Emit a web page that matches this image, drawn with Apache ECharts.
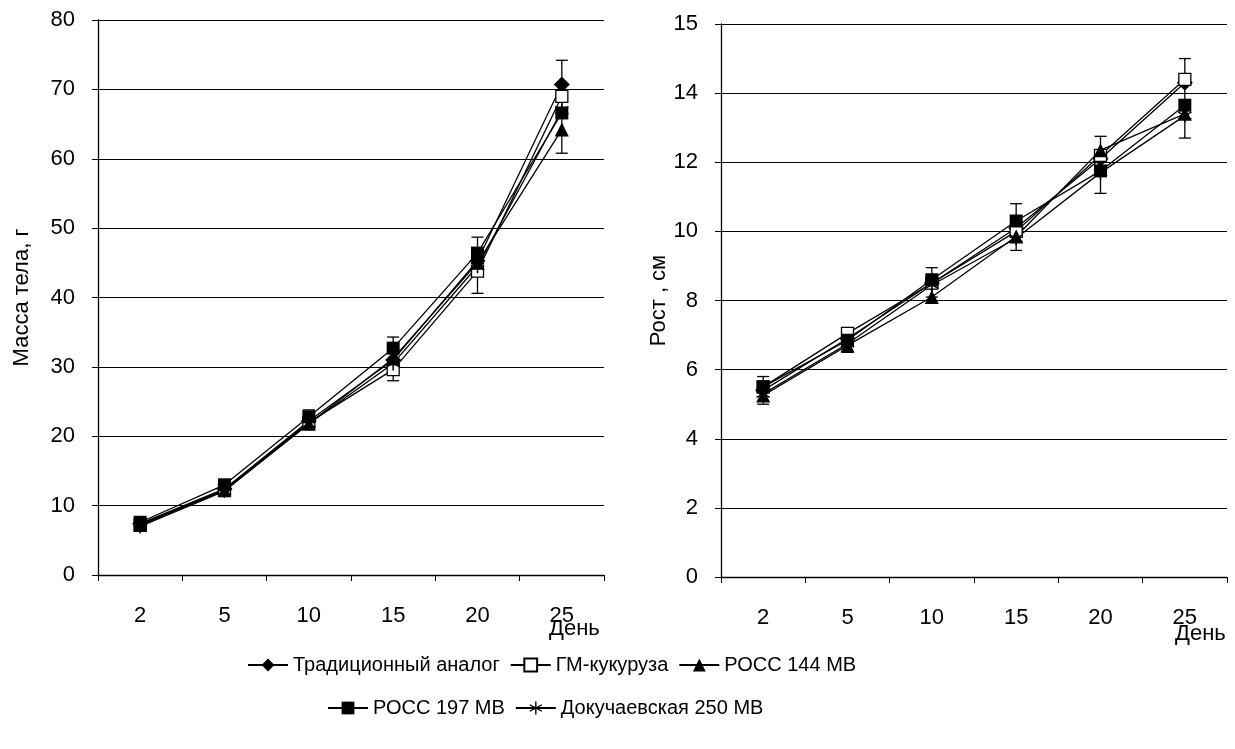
<!DOCTYPE html>
<html><head><meta charset="utf-8">
<script src="https://cdn.jsdelivr.net/npm/echarts@6/dist/echarts.min.js"></script>
<style>html,body{margin:0;padding:0;background:#fff}#c{width:1235px;height:749px}</style>
</head><body><div id="c"></div>
<script>
var days = ['2','5','10','15','20','25'];
var seriesNames = ['Традиционный аналог','ГМ-кукуруза','РОСС 144 МВ','РОСС 197 МВ','Докучаевская 250 МВ'];
// Масса тела, г
var massTrad = [7.4, 12.4, 22.2, 31.0, 45.3, 70.7];
var massGM   = [7.3, 12.3, 22.0, 29.6, 43.8, 69.0];
var mass144  = [7.2, 12.2, 21.8, 31.2, 45.0, 64.2];
var mass197  = [7.6, 13.0, 22.8, 32.7, 46.4, 66.6];
var massDok  = [7.0, 12.1, 21.8, 30.5, 44.5, 67.0];
var massErrLow  = [6.6, 11.5, 21.0, 28.0, 40.6, 60.8];
var massErrHigh = [8.2, 13.6, 23.8, 34.3, 48.7, 74.2];
var massTickLabels = ['0','10','20','30','40','50','60','70','80'];
// Рост, см
var hTrad = [5.4, 6.9, 8.5, 10.1, 12.1, 14.3];
var hGM   = [5.5, 7.05, 8.5, 10.0, 12.2, 14.4];
var h144  = [5.25, 6.7, 8.1, 9.85, 12.35, 13.4];
var h197  = [5.5, 6.85, 8.6, 10.3, 11.75, 13.65];
var hDok  = [5.3, 6.75, 8.45, 9.8, 11.7, 13.35];
var hErrLow  = [5.0, 6.5, 8.1, 9.45, 11.1, 12.7];
var hErrHigh = [5.8, 7.2, 8.95, 10.8, 12.75, 15.0];
var hTickLabels = ['0','2','4','6','8','10','12','14','15'];

var FONT = 'Liberation Sans';
var star = 'path://M-1,-10L1,-10L1,10L-1,10Z M-9.16,-4.13L-8.16,-5.87L9.16,4.13L8.16,5.87Z M-8.16,5.87L-9.16,4.13L8.16,-5.87L9.16,-4.13Z';
var symbols = ['diamond','rect','triangle','rect',star];
var sizes = [16, 12, 14, 13, 14];
var fills = ['#000','#fff','#000','#000','#000'];

function lineSeries(name, idx, data, axis) {
  return {
    name: name, type: 'line', xAxisIndex: axis, yAxisIndex: axis, data: data,
    symbol: symbols[idx], symbolSize: sizes[idx], showAllSymbol: true,
    lineStyle: {color: '#000', width: 1.3},
    itemStyle: {color: fills[idx], borderColor: '#000', borderWidth: idx === 1 ? 1.3 : 0},
    z: 3
  };
}
function errSeries(low, high, axis) {
  return {
    type: 'custom', xAxisIndex: axis, yAxisIndex: axis, z: 2,
    data: days.map(function (d, i) { return [i, low[i], high[i]]; }),
    renderItem: function (params, api) {
      var lo = api.coord([api.value(0), api.value(1)]);
      var hi = api.coord([api.value(0), api.value(2)]);
      var w = 6;
      var st = {stroke: '#000', lineWidth: 1.3};
      return {type: 'group', children: [
        {type: 'line', shape: {x1: lo[0], y1: lo[1], x2: hi[0], y2: hi[1]}, style: st},
        {type: 'line', shape: {x1: lo[0]-w, y1: lo[1], x2: lo[0]+w, y2: lo[1]}, style: st},
        {type: 'line', shape: {x1: hi[0]-w, y1: hi[1], x2: hi[0]+w, y2: hi[1]}, style: st}
      ]};
    }
  };
}
var axLabel = {color: '#000', fontFamily: FONT, fontSize: 22};
function xAx(gi) {
  return {type: 'category', gridIndex: gi, data: days, boundaryGap: true,
    axisLine: {lineStyle: {color: '#000', width: 1.3}},
    axisTick: {show: true, length: 6, inside: false, lineStyle: {color: '#000'}},
    axisLabel: Object.assign({margin: 30}, axLabel), splitLine: {show: false}};
}
function yAx(gi, max, interval, name, labels, gap) {
  return {type: 'value', gridIndex: gi, min: 0, max: max, interval: interval,
    name: name, nameLocation: 'middle', nameGap: gap, nameRotate: 90,
    nameTextStyle: {color: '#000', fontFamily: FONT, fontSize: 22},
    axisLine: {show: true, lineStyle: {color: '#000', width: 1.3}},
    axisTick: {show: true, length: 6, lineStyle: {color: '#000'}},
    axisLabel: Object.assign({margin: 23, formatter: function (v) {
      return labels[Math.round(v / interval)];
    }}, axLabel),
    splitLine: {show: true, lineStyle: {color: '#000', width: 1.2}}};
}
var series = [
  lineSeries(seriesNames[0], 0, massTrad, 0),
  lineSeries(seriesNames[1], 1, massGM, 0),
  lineSeries(seriesNames[2], 2, mass144, 0),
  lineSeries(seriesNames[3], 3, mass197, 0),
  lineSeries(seriesNames[4], 4, massDok, 0),
  errSeries(massErrLow, massErrHigh, 0),
  lineSeries(seriesNames[0], 0, hTrad, 1),
  lineSeries(seriesNames[1], 1, hGM, 1),
  lineSeries(seriesNames[2], 2, h144, 1),
  lineSeries(seriesNames[3], 3, h197, 1),
  lineSeries(seriesNames[4], 4, hDok, 1),
  errSeries(hErrLow, hErrHigh, 1)
];
var legendText = {color: '#000', fontFamily: FONT, fontSize: 20};
var chart = echarts.init(document.getElementById('c'), null, {renderer: 'canvas'});
chart.setOption({
  backgroundColor: '#fff',
  animation: false,
  grid: [
    {left: 98, right: 631, top: 20, bottom: 174},
    {left: 721, right: 8, top: 24, bottom: 172}
  ],
  xAxis: [xAx(0), xAx(1)],
  yAxis: [yAx(0, 80, 10, 'Масса тела, г', massTickLabels, 65), yAx(1, 16, 2, 'Рост , см', hTickLabels, 29)],
  legend: [
    {data: seriesNames.slice(0, 3), left: 242, top: 650, itemWidth: 40, itemHeight: 16, itemGap: 10,
     textStyle: legendText, selectedMode: false},
    {data: seriesNames.slice(3), left: 322, top: 693, itemWidth: 40, itemHeight: 16, itemGap: 10,
     textStyle: legendText, selectedMode: false}
  ],
  graphic: [
    {type: 'text', left: 549, top: 618, style: {text: 'День', fill: '#000', font: '22px "Liberation Sans"'}},
    {type: 'text', left: 1175, top: 623, style: {text: 'День', fill: '#000', font: '22px "Liberation Sans"'}}
  ],
  series: series
});
</script></body></html>
